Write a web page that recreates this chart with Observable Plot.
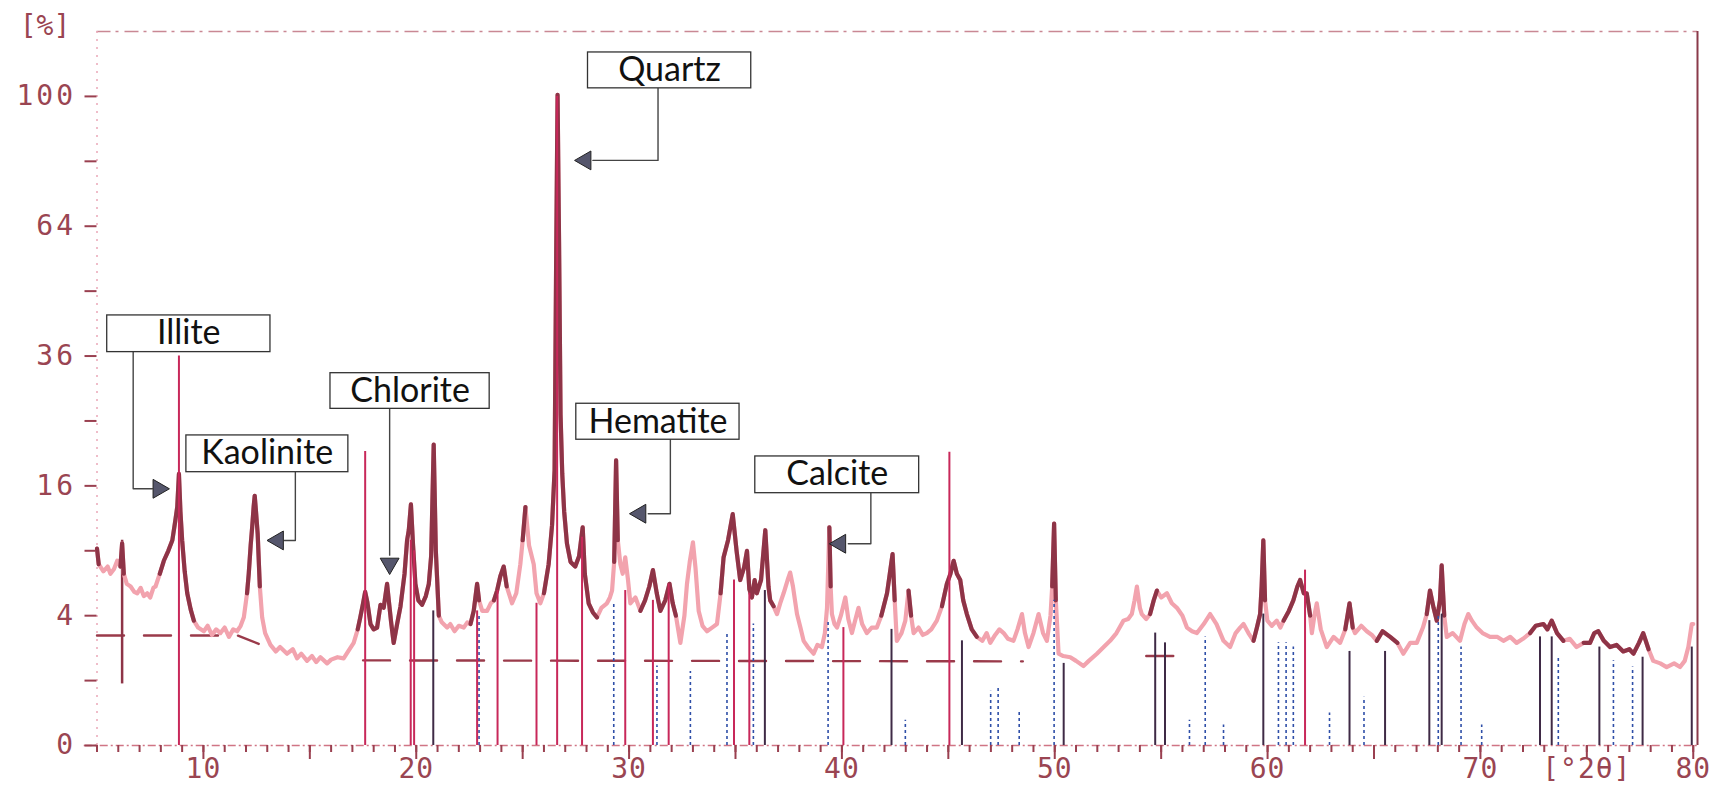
<!DOCTYPE html>
<html><head><meta charset="utf-8">
<script src="https://cdn.jsdelivr.net/npm/d3@7"></script>
<script src="https://cdn.jsdelivr.net/npm/@observablehq/plot@0.6"></script>
<style>
html,body{margin:0;padding:0;background:#fff;}
#chart svg{display:block;}
#chart g[aria-label="y-axis tick label"] text{letter-spacing:3px;}
#chart g[aria-label="x-axis tick label"] text{letter-spacing:1px;}
</style></head><body><div id="chart"></div>
<script>
// measured scan: 2θ (degrees) and relative intensity (%)
const scanDeg = [5.00,5.08,5.3,5.5,5.63,5.8,5.95,6.1,6.18,6.26,6.4,6.58,6.75,6.89,7.05,7.2,7.36,7.5,7.65,7.75,7.95,8.14,8.35,8.54,8.68,8.77,8.85,8.92,9.0,9.12,9.24,9.4,9.55,9.75,10.02,10.2,10.4,10.6,10.8,11.0,11.2,11.4,11.58,11.75,11.9,12.05,12.13,12.22,12.29,12.36,12.41,12.47,12.55,12.65,12.76,12.9,13.15,13.4,13.6,13.93,14.2,14.4,14.6,14.87,15.1,15.3,15.5,15.81,16.0,16.3,16.59,16.8,17.06,17.25,17.37,17.5,17.6,17.7,17.85,18.0,18.16,18.32,18.47,18.63,18.71,18.82,18.94,19.1,19.26,19.45,19.57,19.65,19.75,19.85,19.96,20.1,20.27,20.45,20.59,20.7,20.82,20.92,21.06,21.2,21.45,21.6,21.8,22.0,22.23,22.4,22.55,22.7,22.86,22.95,23.1,23.33,23.5,23.65,23.8,23.95,24.11,24.25,24.5,24.7,24.89,25.0,25.13,25.3,25.52,25.65,25.83,26.0,26.22,26.38,26.5,26.58,26.64,26.71,26.78,26.86,26.95,27.08,27.25,27.47,27.65,27.82,27.92,28.1,28.3,28.49,28.7,28.96,29.1,29.2,29.3,29.39,29.47,29.59,29.7,29.82,29.95,30.06,30.3,30.53,30.75,30.95,31.12,31.3,31.47,31.7,31.9,32.05,32.2,32.41,32.6,32.72,32.85,33.0,33.12,33.27,33.45,33.66,33.9,34.13,34.3,34.44,34.65,34.87,35.05,35.22,35.4,35.54,35.65,35.77,35.9,36.0,36.2,36.4,36.55,36.63,36.79,36.95,37.1,37.26,37.45,37.57,37.7,37.89,38.05,38.2,38.4,38.67,38.85,39.06,39.2,39.3,39.41,39.47,39.53,39.65,39.77,39.95,40.16,40.3,40.47,40.6,40.78,40.95,41.17,41.4,41.64,41.85,42.12,42.25,42.38,42.48,42.58,42.8,42.98,43.13,43.25,43.37,43.6,43.8,43.99,44.2,44.46,44.7,44.93,45.1,45.25,45.4,45.56,45.7,45.87,46.1,46.34,46.6,46.8,46.97,47.2,47.4,47.6,47.8,48.06,48.25,48.46,48.6,48.77,49.0,49.24,49.45,49.63,49.8,49.88,49.97,50.05,50.18,50.4,50.73,51.0,51.35,51.6,51.98,52.3,52.6,52.9,53.23,53.45,53.62,53.75,53.86,54.0,54.09,54.3,54.48,54.65,54.8,55.0,55.27,55.5,55.74,56.0,56.21,56.45,56.68,57.0,57.3,57.6,57.93,58.24,58.5,58.71,58.87,59.1,59.34,59.5,59.65,59.72,59.8,59.88,59.99,60.2,60.43,60.6,60.75,61.0,61.21,61.4,61.53,61.7,61.84,62.0,62.08,62.2,62.31,62.5,62.78,63.1,63.41,63.65,63.85,64.0,64.11,64.4,64.66,64.9,65.13,65.4,65.76,66.1,66.38,66.7,67.01,67.3,67.48,67.63,67.8,67.95,68.1,68.18,68.3,68.42,68.7,69.04,69.25,69.43,69.6,69.83,70.1,70.45,70.8,71.08,71.4,71.7,72.0,72.33,72.6,72.96,73.15,73.35,73.6,73.9,74.2,74.52,74.85,75.15,75.35,75.54,75.8,76.09,76.4,76.71,77.0,77.19,77.45,77.65,77.9,78.12,78.45,78.75,79.1,79.38,79.6,79.77,79.93,80.0];
const scanPct = [9.2,7.8,7.2,7.6,7.0,7.4,8.1,7.6,9.7,7.0,6.2,6.0,5.6,5.5,5.9,5.3,5.5,5.2,5.9,6.0,7.0,8.1,9.0,10.0,12.0,13.5,17.5,13.0,10.0,7.2,5.5,4.4,3.7,3.3,3.1,3.4,2.9,3.2,3.0,3.3,2.8,3.2,3.1,3.4,3.9,5.5,7.0,9.5,11.3,13.5,14.8,13.0,10.6,6.0,3.9,3.0,2.4,2.1,2.3,2.0,2.2,1.8,2.0,1.7,1.9,1.65,1.85,1.6,1.75,1.85,1.8,2.1,2.5,3.2,3.9,4.8,5.6,4.9,3.5,3.2,3.3,4.7,4.5,6.2,5.0,3.6,2.5,3.5,4.6,7.0,10.0,11.0,13.8,9.5,6.2,5.0,4.7,5.3,6.2,8.5,21.5,9.0,4.0,3.6,3.3,3.5,3.1,3.4,3.3,3.6,3.5,4.3,6.2,5.0,4.3,4.3,4.8,5.0,5.7,6.8,7.6,6.0,4.8,5.5,7.8,10.0,13.5,9.5,7.8,5.5,4.8,5.5,7.8,11.5,18.0,60,100.5,60,26,17.5,13.0,9.7,8.0,7.6,8.5,11.3,7.0,4.8,4.2,3.9,4.5,4.8,5.2,5.7,8.0,19.3,10.0,7.8,7.0,8.4,6.5,4.8,5.2,4.3,5.0,6.0,7.3,5.5,4.3,5.0,6.2,4.8,4.0,2.5,4.0,6.2,8.0,9.8,7.5,4.3,3.4,3.1,3.3,3.5,5.5,8.4,10.0,12.7,9.0,6.5,7.5,9.0,5.8,5.2,6.5,5.5,6.5,11.0,6.0,5.0,4.6,4.1,4.8,5.5,6.5,7.1,6.0,4.1,3.3,2.6,2.3,2.0,2.4,2.3,3.0,4.5,11.3,6.0,4.1,3.5,3.3,4.0,5.2,3.8,3.0,3.6,4.5,3.5,3.0,3.3,3.3,4.0,5.5,7.0,8.7,5.0,2.6,3.0,3.7,5.7,4.0,3.0,3.3,2.9,3.0,3.2,3.7,4.6,6.2,7.0,8.1,7.0,6.5,5.0,4.1,3.2,2.8,2.6,3.0,2.5,2.9,3.2,3.0,2.7,2.6,3.2,4.1,3.0,2.3,3.0,4.1,3.0,2.6,4.0,6.0,11.7,5.0,2.0,1.9,1.85,1.7,1.5,1.7,2.0,2.3,2.6,3.0,3.7,3.8,4.1,5.0,6.0,4.5,4.1,3.8,4.1,5.0,5.7,5.2,5.5,4.8,4.5,4.0,3.3,3.1,3.0,3.5,4.1,3.5,2.6,2.3,3.0,3.3,3.5,3.0,2.6,3.3,4.1,6.0,10.0,5.0,3.7,3.4,3.7,3.3,3.7,4.3,5.0,6.0,6.5,5.5,5.5,4.0,3.0,4.0,4.8,3.2,2.3,2.8,2.5,3.2,4.8,3.3,3.0,3.4,3.1,2.9,2.6,3.1,2.8,2.5,2.0,2.5,2.5,3.3,4.1,5.7,4.5,3.7,5.0,7.7,4.0,2.8,3.0,2.6,3.5,4.1,3.7,3.3,3.0,2.8,2.8,2.6,2.8,2.5,2.7,3.0,3.4,3.5,3.2,3.7,3.0,2.6,2.7,2.3,2.5,2.5,3.0,3.1,2.6,2.3,2.4,2.1,2.2,2.0,2.5,3.0,2.2,1.7,1.6,1.46,1.6,1.46,1.7,2.3,3.5,3.5];

// ranges of the scan drawn with the dark pen
const darkFrom = [5.0,6.1,7.85,12.0,17.15,22.5,23.65,25.0,25.85,29.25,30.45,34.3,39.35,41.8,43.05,44.6,49.85,54.48,59.3,60.7,63.65,65.1,67.4,72.3,74.7];
const darkTo   = [5.1,6.3,9.55,12.75,21.15,23.05,24.3,25.25,28.65,29.5,32.25,36.85,39.47,42.55,43.3,46.45,50.1,54.8,59.9,62.0,64.0,66.1,68.3,74.05,78.0];

// reference pattern sticks: position, height, kind
const stickDeg = [8.85,17.60,19.74,19.90,22.86,23.82,25.65,26.62,27.79,29.82,31.12,31.86,34.93,35.65,40.07,45.05,61.76,
  20.80,36.38,42.33,45.64,50.42,54.72,55.18,59.80,63.85,65.52,67.60,68.18,72.80,73.35,75.59,77.62,79.93,
  22.95,29.28,31.31,32.88,34.60,35.84,39.35,42.98,46.99,47.34,48.33,49.97,56.33,57.07,57.93,60.51,60.87,61.21,62.91,64.53,68.02,69.09,70.06,73.66,76.25,77.15];
const stickPct = [36,20.5,10,9,4.3,5.7,4.8,100,10.3,5.7,5.0,6.2,6.5,5.5,3.3,20.4,7.3,
  4.3,5.7,3.2,2.6,1.6,3.0,2.5,4.1,2.1,2.1,3.7,4.1,2.8,2.8,2.3,1.85,2.3,
  4.0,4.8,1.5,1.3,3.0,3.5,3.7,0.15,0.7,0.8,0.3,5.0,0.15,2.8,0.1,2.5,2.5,2.3,0.25,0.55,4.1,2.3,0.1,1.85,1.7,1.46];
const stickKind = [...Array(17).fill("ref"), ...Array(17).fill("dark"), ...Array(26).fill("blue")];

// background marker (dashed), in separate pieces
const bgDeg = [5.0,11.6,12.6, 17.5,48.5, 54.3,55.8];
const bgPct = [2.87,2.87,2.45, 1.72,1.68, 1.9,1.9];
const bgPiece = [0,0,0, 1,1, 2,2];

// bracket line at the start
const bracketDeg = [6.18];
const bracketLo = [0.9];
const bracketHi = [10.0];

// phase labels
const labelNames = ["Illite","Kaolinite","Chlorite","Quartz","Hematite","Calcite"];
const labelDeg   = [9.31,13.0,19.71,31.9,31.36,39.78];
const labelPct   = [40.3,20.24,29.84,108.2,24.88,17.44];
const boxDeg1 = [5.48,9.20,15.97,28.07,27.52,35.93];
const boxDeg2 = [13.15,16.81,23.45,35.74,35.19,43.63];
const boxPct1 = [36.73,17.73,26.9,102.5,22.19,15.11];
const boxPct2 = [43.9,22.82,32.9,114.0,27.72,19.83];
const leaderDeg = [[6.70,6.70,7.6],[14.32,14.32,13.8],[18.75,18.75],[31.36,31.36,28.3],[31.94,31.94,30.9],[41.36,41.36,40.3]];
const leaderPct = [[36.73,15.64,15.64],[17.73,9.98,9.98],[26.9,8.6],[102.5,81.25,81.25],[22.19,12.75,12.75],[15.11,9.66,9.66]];
const arrowDeg = [7.89,13.50,18.75,27.95,30.53,39.92];
const arrowPct = [15.64,9.98,7.85,81.25,12.75,9.66];
const arrowRot = [90,-90,180,-90,-90,-90];

// axis ticks
const yTickLabels = [0,4,16,36,64,100];
const yTickMinor = [1,9,25,49,81];
const xTickLabels = [10,20,30,40,50,60,70,75,80];
const xTickMajor = [10,15,20,25,30,35,40,45,50,55,60,65,70,75,80];
const xTickMinor = d3.range(5,81,1);

// ---------------------------------------------------------------
const scan = scanDeg.map((x,i)=>({x, y: scanPct[i]}));
const darkIdx = x => darkFrom.findIndex((a,i)=> x>=a && x<=darkTo[i]);
const sticks = stickDeg.map((x,i)=>({x, h: stickPct[i], k: stickKind[i]}));
const bg = bgDeg.map((x,i)=>({x, y: bgPct[i], p: bgPiece[i]}));
const labels = labelNames.map((t,i)=>({t, x: labelDeg[i], y: labelPct[i], x1: boxDeg1[i], x2: boxDeg2[i], y1: boxPct1[i], y2: boxPct2[i]}));
const leaders = labelNames.flatMap((t,i)=> leaderDeg[i].map((x,j)=>({t, x, y: leaderPct[i][j]})));
const arrows = labelNames.map((t,i)=>({t, x: arrowDeg[i], y: arrowPct[i], r: arrowRot[i]}));
const brackets = bracketDeg.map((x,i)=>({x, y1: bracketLo[i], y2: bracketHi[i]}));

const axisColor = "#9a4552";
const tickColor = "#9a4050";

const chart = Plot.plot({
  width: 1733, height: 791,
  marginLeft: 96.5, marginRight: 36, marginTop: 31, marginBottom: 46,
  x: {domain: [5, 80.2]},
  y: {type: "sqrt", domain: [0, 121]},
  style: {fontFamily: "'DejaVu Sans Mono', monospace", fontSize: "28px", color: axisColor, background: "#fff"},
  marks: [
    // frame
    Plot.ruleY([121], {stroke: "#c98894", strokeWidth: 1.5, strokeDasharray: "14,5,3,6"}),
    Plot.ruleX([80.2], {y1: 0, y2: 121, stroke: "#8a3a4a", strokeWidth: 2}),
    Plot.ruleX([5], {y1: 0, y2: 121, stroke: "#eaa8b8", strokeWidth: 1.5, strokeDasharray: "2,6"}),
    Plot.ruleY([0], {x1: 4.4, x2: 80.2, stroke: "#d07585", strokeWidth: 1.5, strokeDasharray: "8,3,2,3"}),
    // axes
    Plot.axisY({ticks: yTickLabels, tickSize: 12, tickPadding: 9, label: null, stroke: tickColor, strokeWidth: 2, fill: axisColor}),
    Plot.axisY({ticks: yTickMinor, tickSize: 12, tickFormat: () => "", label: null, stroke: tickColor, strokeWidth: 2}),
    Plot.axisX({ticks: xTickMinor, tickSize: 7, tickFormat: () => "", label: null, stroke: tickColor, strokeWidth: 2}),
    Plot.axisX({ticks: xTickMajor, tickSize: 14, tickFormat: () => "", label: null, stroke: tickColor, strokeWidth: 2}),
    Plot.axisX({ticks: xTickLabels, tickSize: 0, tickPadding: 13, label: null, fill: axisColor,
      tickFormat: d => d === 75 ? "[°2θ]" : String(d)}),
    Plot.text(["[%]"], {frameAnchor: "top-left", dx: -52, dy: -5, textAnchor: "middle", lineAnchor: "middle", fill: axisColor, fontSize: 28, fontFamily: "'DejaVu Sans Mono', monospace"}),
    // background dashes
    Plot.line(bg, {x: "x", y: "y", z: "p", stroke: "#9a3a4a", strokeWidth: 2.4, strokeDasharray: "27,20"}),
    Plot.ruleX(brackets, {x: "x", y1: "y1", y2: "y2", stroke: "#8e3447", strokeWidth: 2.5}),
    // scan
    Plot.line(scan, {x: "x", y: "y", stroke: "#f2a3ae", strokeWidth: 4.2, strokeLinejoin: "round"}),
    Plot.line(scan, {x: "x", y: "y", filter: d => darkIdx(d.x) >= 0, z: d => darkIdx(d.x), stroke: "#8e3447", strokeWidth: 4.2, strokeLinejoin: "round"}),
    // sticks
    Plot.ruleX(sticks, {filter: d => d.k === "blue", x: "x", y1: 0, y2: "h", stroke: "#2f4fa8", strokeWidth: 1.6, strokeDasharray: "3,3"}),
    Plot.ruleX(sticks, {filter: d => d.k === "dark", x: "x", y1: 0, y2: "h", stroke: "#3f2a46", strokeWidth: 2}),
    Plot.ruleX(sticks, {filter: d => d.k === "ref", x: "x", y1: 0, y2: "h", stroke: "#c8285a", strokeWidth: 2}),
    // labels
    Plot.line(leaders, {x: "x", y: "y", z: "t", stroke: "#444", strokeWidth: 1.4}),
    Plot.dot(arrows, {x: "x", y: "y", symbol: "triangle", r: 7, rotate: "r", fill: "#55566c", stroke: "#222", strokeWidth: 1}),
    Plot.rect(labels, {x1: "x1", x2: "x2", y1: "y1", y2: "y2", fill: "#fff", stroke: "#333", strokeWidth: 1.3}),
    Plot.text(labels, {x: "x", y: "y", text: "t", fontFamily: "Lato, 'Open Sans', sans-serif", fontSize: 34, fill: "#111", textAnchor: "middle", lineAnchor: "middle"})
  ]
});
document.getElementById("chart").appendChild(chart);
</script>
</body></html>
